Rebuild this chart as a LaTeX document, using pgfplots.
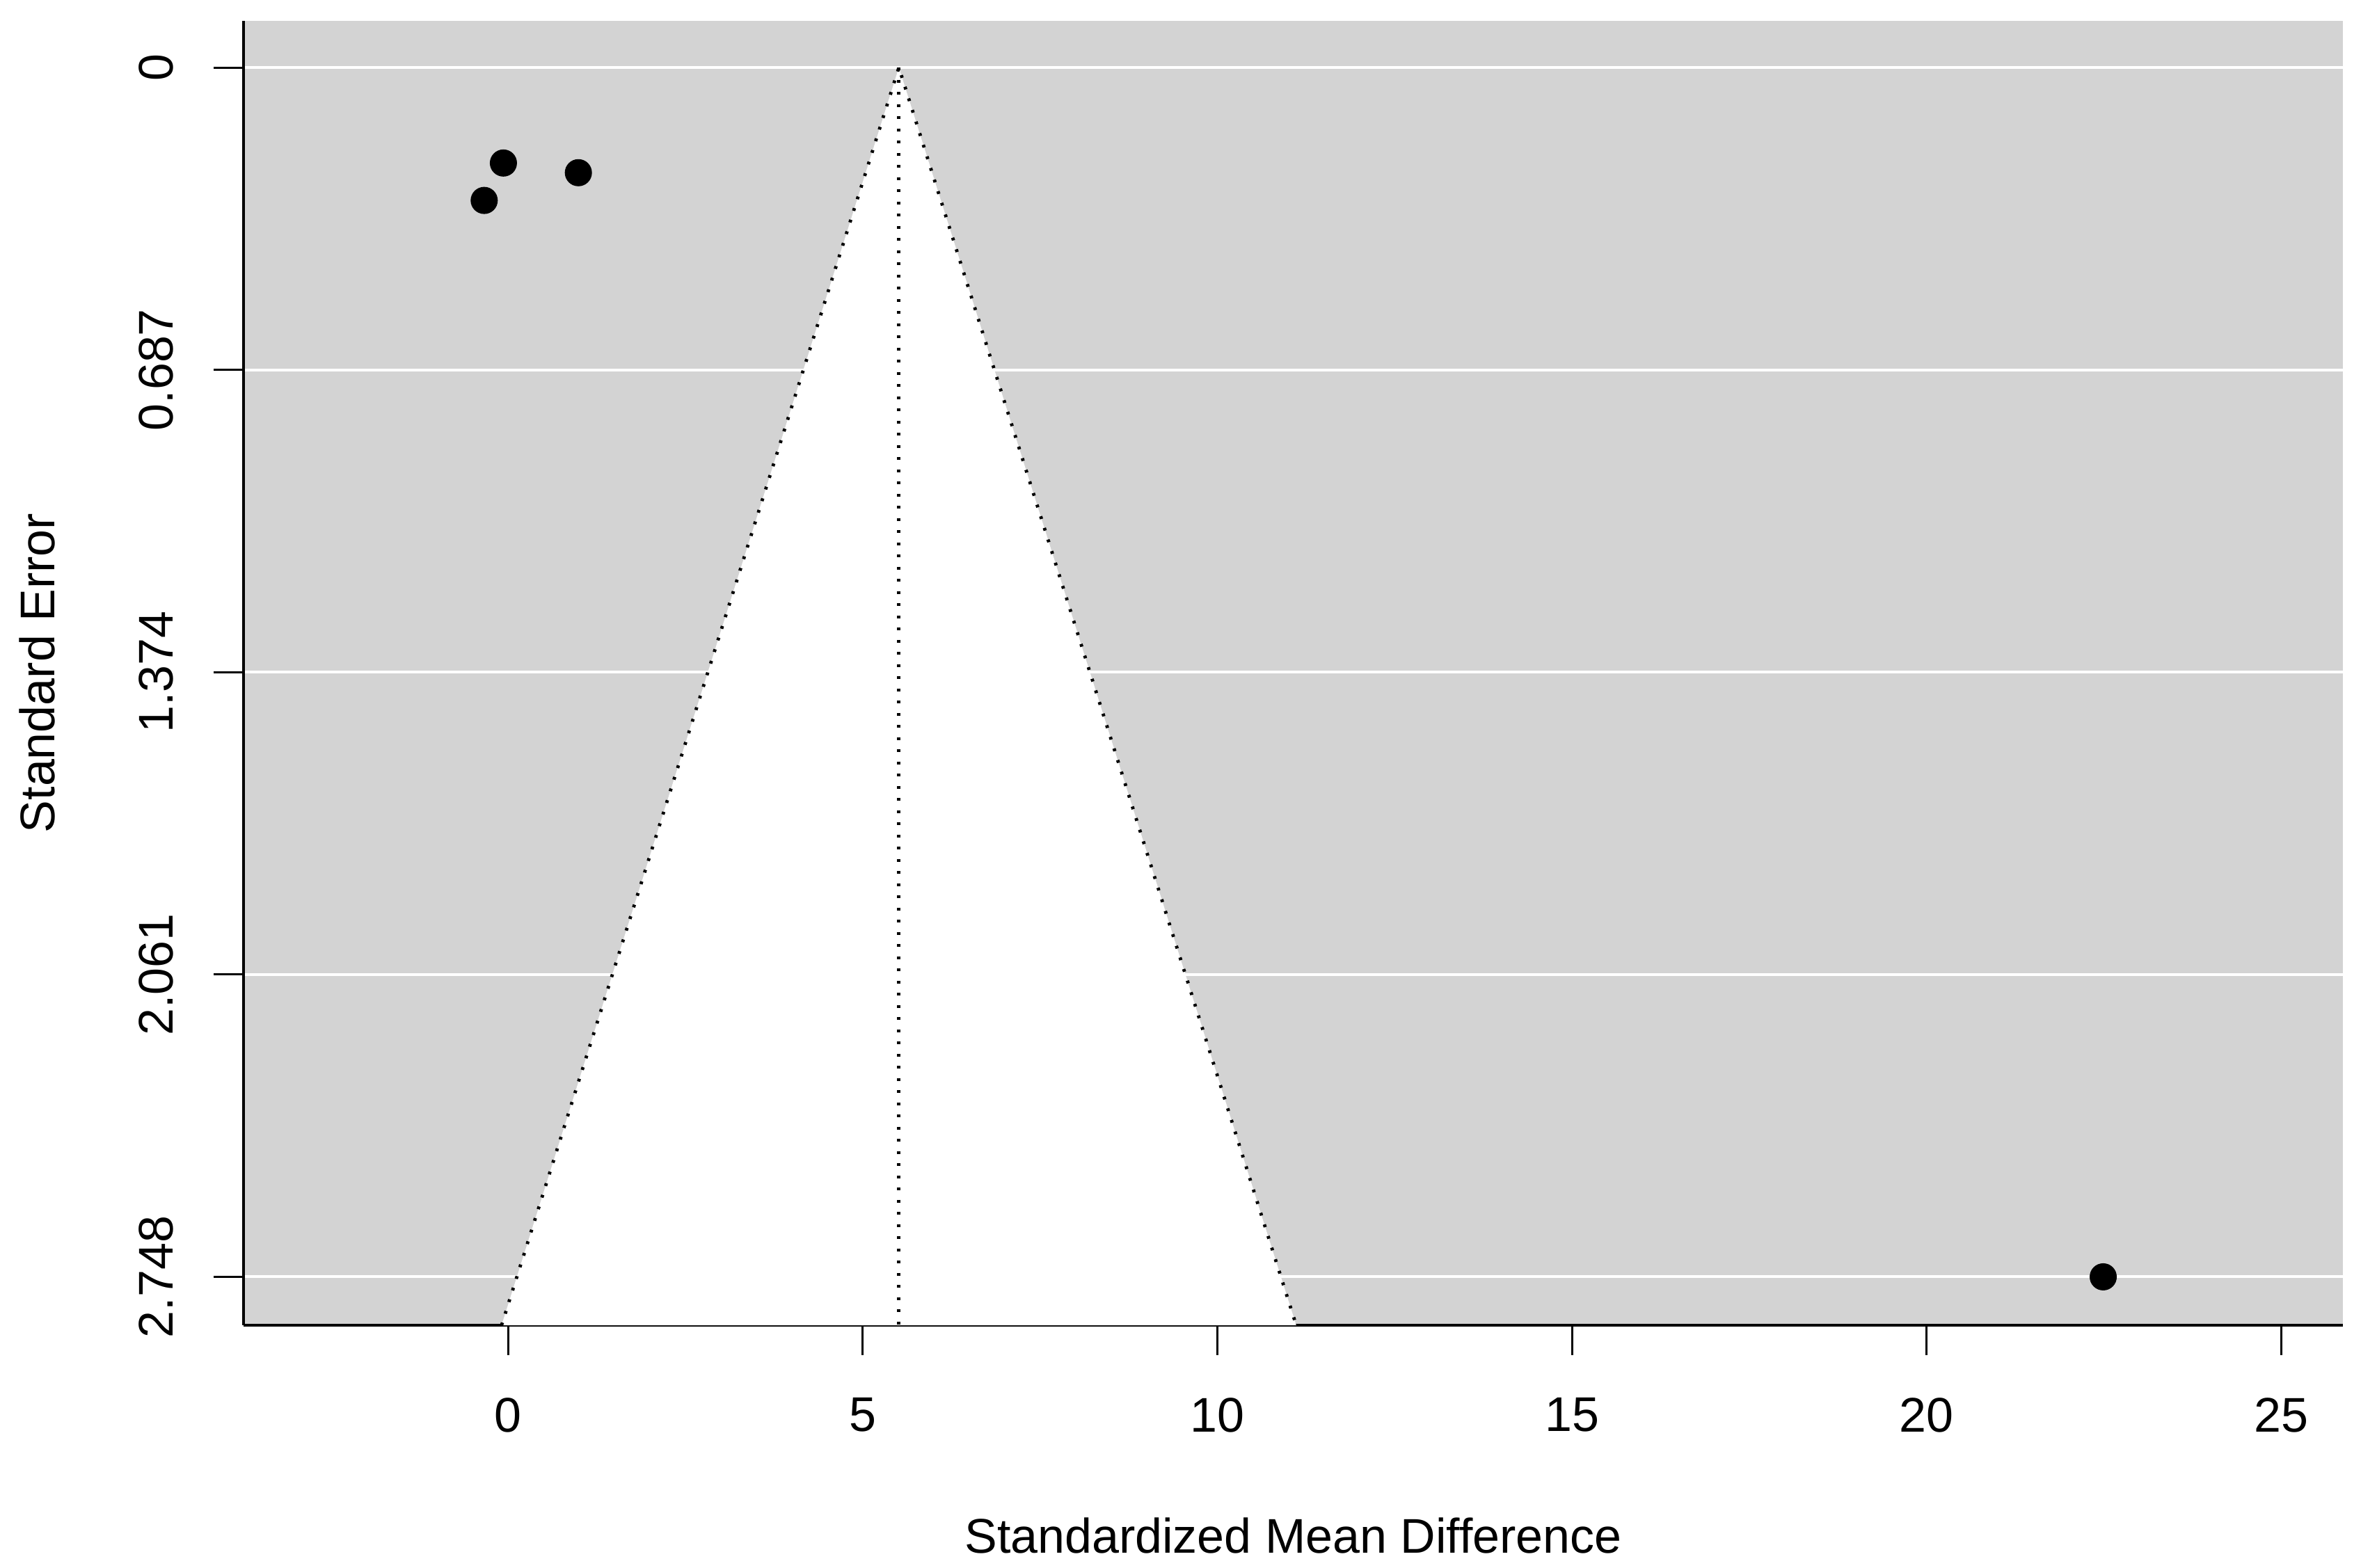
\documentclass[border=0pt]{standalone}
\usepackage{fontspec}
\setmainfont{Liberation Sans}
\usepackage{pgfplots}
\pgfplotsset{compat=1.18}
\definecolor{bggray}{HTML}{D3D3D3}
\begin{document}
\begin{tikzpicture}
\path[use as bounding box] (-70pt,-69.6pt) rectangle (608.6pt,381pt);
\begin{axis}[
  at={(0,0)}, anchor=south west,
  scale only axis, width=603.4pt, height=375pt,
  xmin=-3.73, xmax=25.87,
  ymin=-0.106, ymax=2.858, y dir=reverse,
  axis lines*=left,
  axis line style={line width=0.8pt, black},
  axis background/.style={fill=bggray},
  xtick={0,5,10,15,20,25},
  ytick={0,0.687,1.374,2.061,2.748},
  yticklabels={0,0.687,1.374,2.061,2.748},
  tick align=outside,
  major tick length=8.5pt,
  every tick/.style={black, line width=0.6pt},
  /pgf/number format/assume math mode=true,
  ymajorgrids,
  grid style={white, line width=0.8pt},
  ticklabel style={font=\fontsize{14}{16}\selectfont},
  xticklabel style={anchor=north, inner sep=0pt},
  xticklabel shift=12.2pt,
  yticklabel style={rotate=90, anchor=south, inner sep=0pt},
  yticklabel shift=11.4pt,
  xlabel={Standardized Mean Difference},
  ylabel={Standard Error},
  every axis x label/.style={at={(axis description cs:0.5,-0.1611)}, anchor=center, font=\fontsize{14}{16}\selectfont},
  every axis y label/.style={at={(axis description cs:-0.0984,0.5)}, anchor=center, rotate=90, font=\fontsize{14}{16}\selectfont},
]
\addplot[fill=white, draw=none] coordinates {(-0.092,2.858) (5.51,0) (11.112,2.858)} -- cycle;
\addplot[black, line width=0.95pt, dash pattern=on 0.8pt off 2.7pt] coordinates {(-0.092,2.858) (5.51,0) (11.112,2.858)};
\addplot[black, line width=0.95pt, dash pattern=on 0.8pt off 2.7pt] coordinates {(5.51,0) (5.51,2.858)};
\addplot[only marks, mark=*, mark size=3.7pt, mark options={fill=black, draw=black}] coordinates {
(-0.066,0.217)
(0.991,0.239)
(-0.337,0.302)
(22.49,2.748)
};
\end{axis}
\end{tikzpicture}
\end{document}
